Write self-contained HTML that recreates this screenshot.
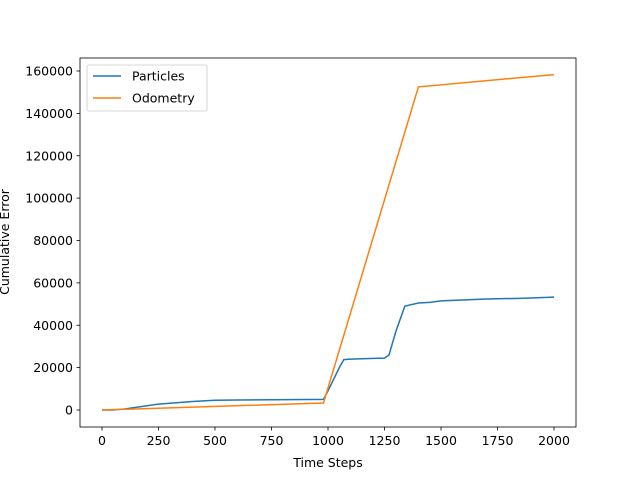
<!DOCTYPE html>
<html><head><meta charset="utf-8"><style>
body{margin:0;background:#fff;}
svg{font-family:"DejaVu Sans","Liberation Sans",sans-serif;}
</style></head><body>
<svg id="chart" width="640" height="480">
<rect width="640" height="480" fill="#fff"/>
<g id="plot"></g>
</svg>
<script>
const particleX=[0,50,100,200,250,400,500,600,980,1000,1050,1070,1100,1250,1270,1300,1340,1400,1450,1500,1700,1850,2000];
const particleY=[0,0,500,2000,2800,4000,4600,4700,5000,9000,20000,23800,24000,24500,26000,37000,49000,50500,50800,51500,52400,52700,53300];
const odoX=[0,980,1400,2000];
const odoY=[0,3300,152500,158300];
const xTicks=[0,250,500,750,1000,1250,1500,1750,2000];
const yTicks=[0,20000,40000,60000,80000,100000,120000,140000,160000];
const L=80,R=576,T=58,B=427;
const FS=12.5;
const sx=v=>102+v*(554-102)/2000;
const sy=v=>410-v*(410-71)/160000;
const g=document.getElementById('plot');
const NS='http://www.w3.org/2000/svg';
function mk(tag,attrs,parent){const e=document.createElementNS(NS,tag);for(const k in attrs)e.setAttribute(k,attrs[k]);(parent||g).appendChild(e);return e;}
function line(xs,ys,color,name){
 const p=mk('polyline',{points:xs.map((x,i)=>sx(x)+','+sy(ys[i])).join(' '),fill:'none',stroke:color,'stroke-width':1.5});
 
 
}
line(particleX,particleY,'#1f77b4','particles-line');
line(odoX,odoY,'#ff7f0e','odometry-line');
const frame=mk('rect',{x:L,y:T,width:R-L,height:B-T,fill:'none',stroke:'#000','stroke-width':0.8});


xTicks.forEach(t=>{
 mk('line',{x1:sx(t),x2:sx(t),y1:B,y2:B+3.5,stroke:'#000','stroke-width':0.8});
 const tx=mk('text',{x:sx(t),y:B+18,'font-size':FS,'text-anchor':'middle'});tx.textContent=t;
 
 
});
yTicks.forEach(t=>{
 mk('line',{x1:L,x2:L-3.5,y1:sy(t),y2:sy(t),stroke:'#000','stroke-width':0.8});
 const tx=mk('text',{x:L-7,y:sy(t)+4.5,'font-size':FS,'text-anchor':'end'});tx.textContent=t;
 
 
});
const xl=mk('text',{x:328,y:467,'font-size':FS,'text-anchor':'middle'});xl.textContent='Time Steps';


const yl=mk('text',{x:0,y:0,'font-size':FS,'text-anchor':'middle',transform:'translate(9,242) rotate(-90)'});yl.textContent='Cumulative Error';


const lg=mk('g',{});


mk('rect',{x:87,y:65,width:120,height:46,rx:2,fill:'#fff',stroke:'#ccc','stroke-width':0.8},lg);
mk('line',{x1:93,x2:121,y1:76,y2:76,stroke:'#1f77b4','stroke-width':1.5},lg);
mk('line',{x1:93,x2:121,y1:98,y2:98,stroke:'#ff7f0e','stroke-width':1.5},lg);
const l1=mk('text',{x:132,y:80.5,'font-size':FS},lg);l1.textContent='Particles';
const l2=mk('text',{x:132,y:102.5,'font-size':FS},lg);l2.textContent='Odometry';
</script>
</body></html>
